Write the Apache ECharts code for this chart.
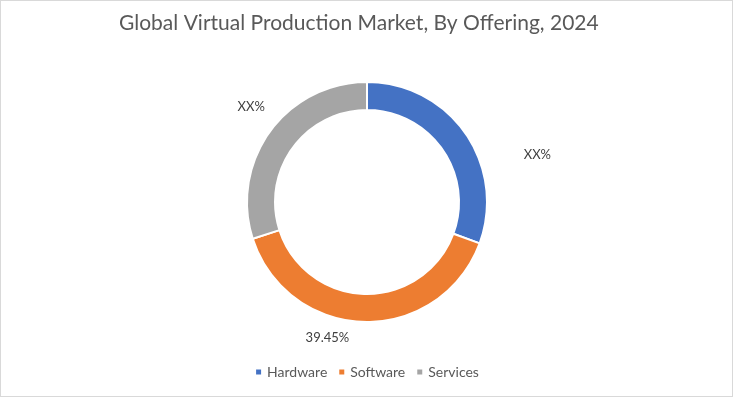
<!DOCTYPE html>
<html>
<head>
<meta charset="utf-8">
<script src="https://cdn.jsdelivr.net/npm/echarts@6/dist/echarts.min.js"></script>
<style>
  html, body { margin: 0; padding: 0; background: #fff; }
  #chart { width: 731px; height: 395px; border: 1px solid #d9d9d9; }
</style>
</head>
<body>
<div id="chart"></div>
<script>
const categories = ["Hardware", "Software", "Services"];
const shares = [30.6, 39.45, 29.95];
const labelTexts = ["XX%", "39.45%", "XX%"];
const colors = ["#4472C4", "#ED7D31", "#A5A5A5"];

// nudge labels to where the original sits them
const labelOffsets = [[11, 30], [20, 1], [42, -16]];

const chart = echarts.init(document.getElementById("chart"));

const option = {
  title: {
    text: "Global Virtual Production Market, By Offering, 2024",
    left: 113,
    top: 7,
    textStyle: {
      fontFamily: "Lato",
      fontSize: 21,
      fontWeight: "normal",
      color: "#595959",
    },
  },
  legend: {
    bottom: 12,
    left: "center",
    icon: "rect",
    itemWidth: 7,
    itemHeight: 7,
    itemGap: 10,
    textStyle: {
      fontFamily: "Lato",
      fontSize: 14,
      color: "#595959",
    },
    data: categories,
  },
  series: [
    {
      type: "pie",
      center: [366, 201],
      radius: [92, 120],
      startAngle: 90,
      clockwise: true,
      avoidLabelOverlap: false,
      itemStyle: { borderColor: "#fff", borderWidth: 2 },
      label: {
        show: true,
        position: "outside",
        fontFamily: "Lato",
        fontSize: 13,
        color: "#404040",
        formatter: (p) => labelTexts[p.dataIndex],
      },
      labelLine: { show: false },
      labelLayout: (p) => ({
        dx: labelOffsets[p.dataIndex][0],
        dy: labelOffsets[p.dataIndex][1],
      }),
      emphasis: { disabled: true },
      data: categories.map((c, i) => ({
        name: c,
        value: shares[i],
        itemStyle: { color: colors[i] },
      })),
    },
  ],
};

chart.setOption(option);
</script>
</body>
</html>
